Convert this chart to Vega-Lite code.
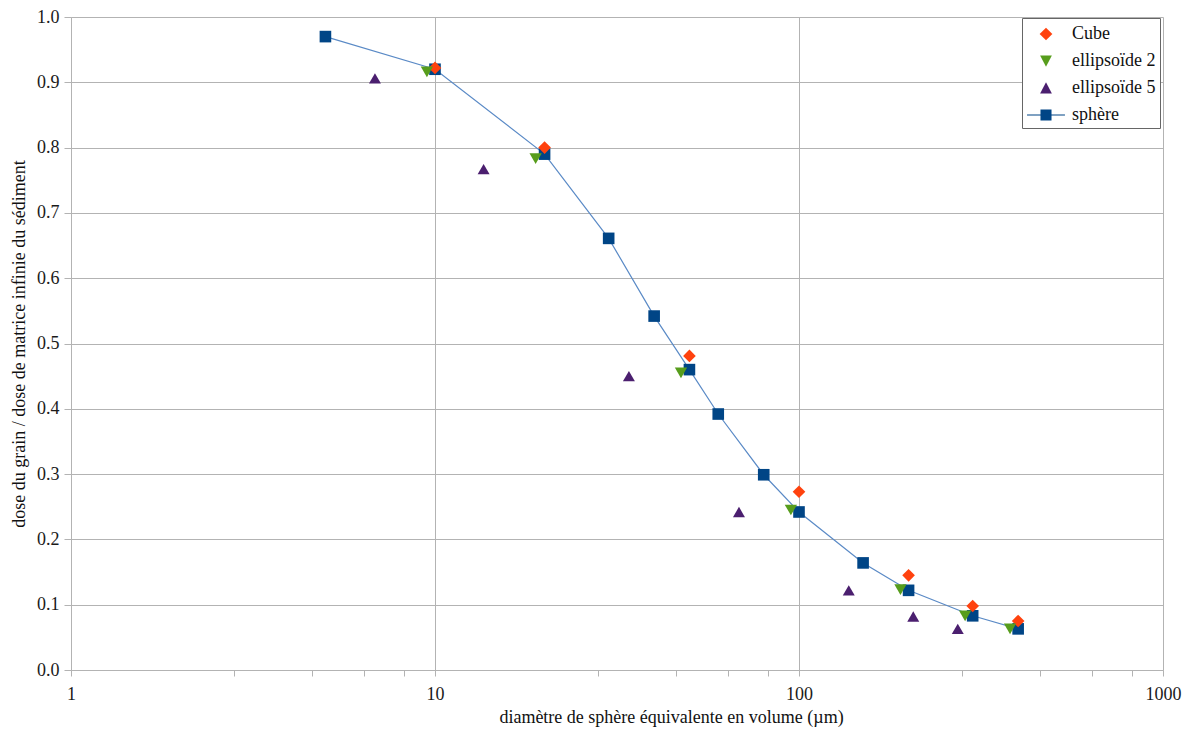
{
  "$schema": "https://vega.github.io/schema/vega-lite/v6.json",
  "width": 1092,
  "height": 653,
  "autosize": {"type": "none"},
  "padding": {"left": 71, "top": 17, "right": 32, "bottom": 66},
  "background": "white",
  "config": {
    "view": {"stroke": null},
    "font": "Liberation Serif",
    "style": {
      "guide-label": {"font": "Liberation Serif"},
      "guide-title": {"font": "Liberation Serif"}
    },
    "axis": {
      "labelFont": "Liberation Serif",
      "titleFont": "Liberation Serif",
      "labelFontSize": 18,
      "titleFontSize": 18,
      "titleFontWeight": "normal",
      "labelColor": "#1a1a1a",
      "titleColor": "#111111",
      "gridColor": "#b3b3b3",
      "domainColor": "#b3b3b3",
      "tickColor": "#b3b3b3",
      "gridWidth": 1,
      "domainWidth": 1
    },
    "legend": {
      "labelFont": "Liberation Serif"
    }
  },
  "data": {
    "values": [
      {"serie": "sphère", "d": 5, "v": 0.970},
      {"serie": "sphère", "d": 10, "v": 0.920},
      {"serie": "sphère", "d": 20, "v": 0.790},
      {"serie": "sphère", "d": 30, "v": 0.661},
      {"serie": "sphère", "d": 40, "v": 0.542},
      {"serie": "sphère", "d": 50, "v": 0.460},
      {"serie": "sphère", "d": 60, "v": 0.392},
      {"serie": "sphère", "d": 80, "v": 0.299},
      {"serie": "sphère", "d": 100, "v": 0.242},
      {"serie": "sphère", "d": 150, "v": 0.164},
      {"serie": "sphère", "d": 200, "v": 0.122},
      {"serie": "sphère", "d": 300, "v": 0.083},
      {"serie": "sphère", "d": 400, "v": 0.063},
      {"serie": "Cube", "d": 10, "v": 0.922},
      {"serie": "Cube", "d": 20, "v": 0.800},
      {"serie": "Cube", "d": 50, "v": 0.481},
      {"serie": "Cube", "d": 100, "v": 0.273},
      {"serie": "Cube", "d": 200, "v": 0.145},
      {"serie": "Cube", "d": 300, "v": 0.098},
      {"serie": "Cube", "d": 400, "v": 0.075},
      {"serie": "ellipsoïde 2", "d": 9.5, "v": 0.916},
      {"serie": "ellipsoïde 2", "d": 18.9, "v": 0.783},
      {"serie": "ellipsoïde 2", "d": 47.4, "v": 0.455},
      {"serie": "ellipsoïde 2", "d": 95, "v": 0.245},
      {"serie": "ellipsoïde 2", "d": 190, "v": 0.123},
      {"serie": "ellipsoïde 2", "d": 286, "v": 0.083},
      {"serie": "ellipsoïde 2", "d": 380, "v": 0.063},
      {"serie": "ellipsoïde 5", "d": 6.84, "v": 0.906},
      {"serie": "ellipsoïde 5", "d": 13.6, "v": 0.767},
      {"serie": "ellipsoïde 5", "d": 34.1, "v": 0.450},
      {"serie": "ellipsoïde 5", "d": 68.4, "v": 0.242},
      {"serie": "ellipsoïde 5", "d": 137, "v": 0.122},
      {"serie": "ellipsoïde 5", "d": 206, "v": 0.082},
      {"serie": "ellipsoïde 5", "d": 273, "v": 0.063}
    ]
  },
  "encoding": {
    "x": {
      "field": "d",
      "type": "quantitative",
      "scale": {"type": "log", "domain": [1, 1000], "nice": false},
      "axis": {
        "title": "diamètre de sphère équivalente en volume (µm)",
        "titleFont": "Liberation Serif",
        "labelFont": "Liberation Serif",
        "values": [1, 2.8, 4.6, 6.4, 8.2, 10, 28, 46, 64, 82, 100, 280, 460, 640, 820, 1000],
        "format": "~g",
        "labelExpr": "(datum.value==1||datum.value==10||datum.value==100||datum.value==1000) ? datum.label : ''",
        "gridOpacity": {"condition": {"test": "datum.value==1||datum.value==10||datum.value==100||datum.value==1000", "value": 1}, "value": 0},
        "tickSize": 6,
        "labelPadding": 9,
        "titlePadding": 5,
        "titleX": 600,
        "titleAlign": "center",
        "labelFlush": false,
        "labelOverlap": false
      }
    },
    "y": {
      "field": "v",
      "type": "quantitative",
      "scale": {"domain": [0, 1], "nice": false},
      "axis": {
        "title": "dose du grain / dose de matrice infinie du sédiment",
        "titleFont": "Liberation Serif",
        "labelFont": "Liberation Serif",
        "values": [0, 0.1, 0.2, 0.3, 0.4, 0.5, 0.6, 0.7, 0.8, 0.9, 1.0],
        "format": ".1f",
        "tickSize": 7,
        "labelPadding": 5,
        "titlePadding": 8,
        "labelFlush": false
      }
    }
  },
  "layer": [
    {
      "transform": [{"filter": "datum.serie == 'sphère'"}],
      "mark": {"type": "line", "color": "#5a8ac6", "strokeWidth": 1.2},
      "encoding": {}
    },
    {
      "mark": {"type": "point", "filled": true, "opacity": 1},
      "encoding": {
        "color": {
          "field": "serie",
          "type": "nominal",
          "scale": {"domain": ["Cube", "ellipsoïde 2", "ellipsoïde 5", "sphère"], "range": ["#ff420e", "#579d1c", "#4b1f6f", "#004586"]},
          "legend": null
        },
        "shape": {
          "field": "serie",
          "type": "nominal",
          "scale": {"domain": ["Cube", "ellipsoïde 2", "ellipsoïde 5", "sphère"], "range": ["diamond", "triangle-down", "triangle-up", "square"]},
          "legend": null
        },
        "size": {
          "field": "serie",
          "type": "nominal",
          "scale": {"domain": ["Cube", "ellipsoïde 2", "ellipsoïde 5", "sphère"], "range": [160, 135, 135, 110]},
          "legend": null
        }
      }
    },
    {
      "transform": [{"filter": "false"}],
      "mark": {"type": "point", "filled": true, "opacity": 1},
      "encoding": {
        "color": {
          "field": "serie",
          "type": "nominal",
          "scale": {"domain": ["Cube", "ellipsoïde 2", "ellipsoïde 5", "sphère"], "range": ["#ff420e", "#579d1c", "#4b1f6f", "#004586"]},
          "legend": {
            "title": null,
            "orient": "none",
            "legendX": 951,
            "legendY": 1,
            "padding": 4,
            "strokeColor": "#666666",
            "fillColor": "white",
            "labelFont": "Liberation Serif",
            "labelFontSize": 18,
            "labelColor": "#111111",
            "labelOffset": 14,
            "symbolOffset": 8,
            "symbolSize": 576,
            "symbolStrokeWidth": 0,
            "rowPadding": 6
          }
        },
        "shape": {
          "field": "serie",
          "type": "nominal",
          "scale": {"domain": ["Cube", "ellipsoïde 2", "ellipsoïde 5", "sphère"], "range": ["M0,-0.53L0.53,0L0,0.53L-0.53,0Z", "M-0.49,-0.46L0.49,-0.46L0,0.48Z", "M0,-0.48L0.49,0.46L-0.49,0.46Z", "M-1.58,-0.05H1.58V0.05H-1.58Z M-0.46,-0.46H0.46V0.46H-0.46Z"]},
          "legend": {
            "title": null,
            "orient": "none",
            "legendX": 951,
            "legendY": 1,
            "padding": 4,
            "strokeColor": "#666666",
            "fillColor": "white",
            "labelFont": "Liberation Serif",
            "labelFontSize": 18,
            "labelColor": "#111111",
            "labelOffset": 14,
            "symbolOffset": 8,
            "symbolSize": 576,
            "symbolStrokeWidth": 0,
            "rowPadding": 6
          }
        }
      }
    }
  ],
  "resolve": {"scale": {"color": "independent", "shape": "independent"}}
}
